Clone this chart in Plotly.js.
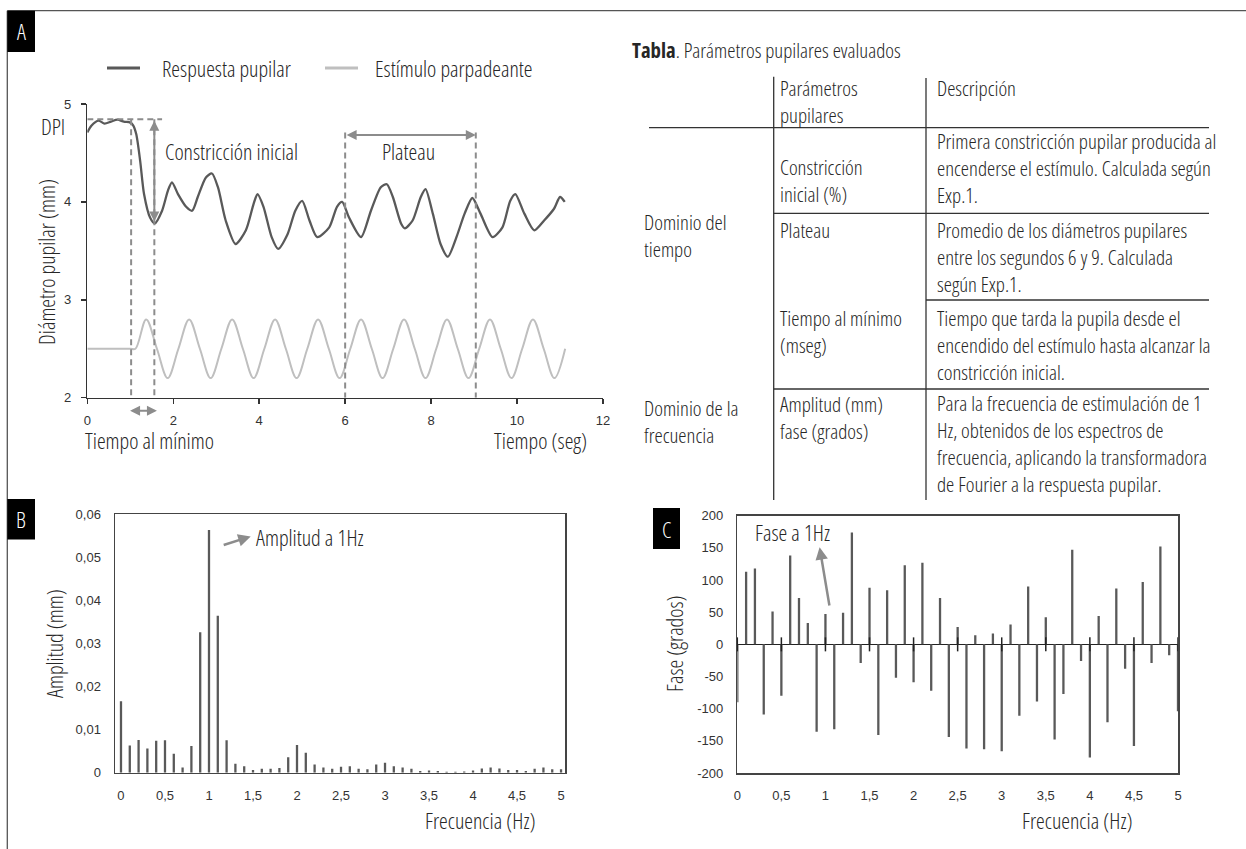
<!DOCTYPE html>
<html><head><meta charset="utf-8">
<script src="https://cdn.plot.ly/plotly-3.0.1.min.js"></script>
<style>html,body{margin:0;padding:0;background:#fff}#chart{width:1246px;height:849px}
text.annotation-text{font-stretch:75%;}</style>
</head><body><div id="chart"></div>
<script>
// ---------- Panel A data: pupil response (mm) vs time (s) ----------
const pupilTime = [0,0.1,0.26,0.4,0.55,0.7,0.85,1.0,1.07,1.14,1.23,1.32,1.46,1.57,1.74,1.88,1.97,2.11,2.30,2.44,2.57,2.76,2.90,3.04,3.22,3.45,3.69,3.87,3.96,4.10,4.29,4.44,4.66,4.84,5.00,5.17,5.35,5.63,5.81,5.93,6.09,6.37,6.60,6.83,6.97,7.11,7.30,7.39,7.57,7.76,7.87,8.04,8.22,8.39,8.59,8.78,8.96,9.15,9.43,9.66,9.84,9.96,10.17,10.40,10.63,10.86,11.00,11.11];
const pupilDiam = [4.71,4.78,4.83,4.80,4.82,4.84,4.82,4.81,4.78,4.69,4.42,4.08,3.84,3.78,3.91,4.12,4.20,4.08,3.95,3.91,4.05,4.25,4.29,4.15,3.81,3.57,3.71,3.98,4.08,3.95,3.64,3.52,3.67,3.91,4.01,3.81,3.64,3.74,3.95,4.00,3.84,3.64,3.91,4.15,4.18,4.05,3.78,3.73,3.81,4.05,4.13,3.88,3.57,3.44,3.64,3.88,4.04,3.88,3.64,3.74,4.01,4.08,3.88,3.71,3.81,3.93,4.05,4.00];
// flickering stimulus trace (drawn on the mm axis)
const stimTime = [0,1.0,1.12,1.37,1.62,1.87,2.12,2.37,2.62,2.87,3.12,3.37,3.62,3.87,4.12,4.37,4.62,4.87,5.12,5.37,5.62,5.87,6.12,6.37,6.62,6.87,7.12,7.37,7.62,7.87,8.12,8.37,8.62,8.87,9.12,9.37,9.62,9.87,10.12,10.37,10.62,10.87,11.12];
const stimLevel = [2.5,2.5,2.5,2.8,2.5,2.2,2.5,2.8,2.5,2.2,2.5,2.8,2.5,2.2,2.5,2.8,2.5,2.2,2.5,2.8,2.5,2.2,2.5,2.8,2.5,2.2,2.5,2.8,2.5,2.2,2.5,2.8,2.5,2.2,2.5,2.8,2.5,2.2,2.5,2.8,2.5,2.2,2.5];
// reference markers
const dpiLevel = 4.845, dpiLineEnd = 1.74;
const stimOnset = 1.02, timeOfMin = 1.56, minDiameter = 3.80;
const plateauStart = 6.0, plateauEnd = 9.04, plateauArrowY = 4.683, plateauTop = 4.71;

// ---------- Panels B and C: frequency spectra ----------
const freqHz = [0,0.1,0.2,0.3,0.4,0.5,0.6,0.7,0.8,0.9,1.0,1.1,1.2,1.3,1.4,1.5,1.6,1.7,1.8,1.9,2.0,2.1,2.2,2.3,2.4,2.5,2.6,2.7,2.8,2.9,3.0,3.1,3.2,3.3,3.4,3.5,3.6,3.7,3.8,3.9,4.0,4.1,4.2,4.3,4.4,4.5,4.6,4.7,4.8,4.9,5.0];
const amplitudeMm = [0.0166,0.0063,0.0076,0.0056,0.0074,0.0075,0.0044,0.0012,0.0062,0.0326,0.0563,0.0364,0.0075,0.0021,0.0015,0.0006,0.0009,0.0009,0.0011,0.0036,0.0064,0.0046,0.0019,0.0012,0.0009,0.0014,0.0015,0.0009,0.0008,0.0019,0.0023,0.0015,0.0012,0.0009,0.0004,0.0005,0.0004,0.0002,0.0002,0.0003,0.0005,0.0010,0.0012,0.0010,0.0006,0.0006,0.0004,0.0009,0.0012,0.0008,0.0008];
const phaseDeg = [-90,113,118,-109,51,-80,138,72,33,-136,47,-132,49,174,-29,88,-141,84,-52,123,-59,127,-72,72,-144,27,-162,14,-163,17,-166,31,-111,90,-89,42,-148,-77,147,-26,-176,44,-121,87,-38,-158,97,-29,152,-17,-104];
const phaseTickVals = [-200,-150,-100,-50,0,50,100,150,200];
const phaseTickText = ['-200','-150','-100','-50','0','50','100','150','200'];
const zeroAxisTicks = [0,0.5,1,1.5,2,2.5,3,3.5,4,4.5,5];

// ---------- Table ----------
const tableTitle = '<b>Tabla</b>. Parámetros pupilares evaluados';
const tableHeader = ['Parámetros<br>pupilares', 'Descripción'];
const tableDomains = ['Dominio del<br>tiempo', 'Dominio de la<br>frecuencia'];
const tableParams = ['Constricción<br>inicial (%)', 'Plateau', 'Tiempo al mínimo<br>(mseg)', 'Amplitud (mm)<br>fase (grados)'];
const tableDescr = [
  'Primera constricción pupilar producida al<br>encenderse el estímulo. Calculada según<br>Exp.1.',
  'Promedio de los diámetros pupilares<br>entre los segundos 6 y 9. Calculada<br>según Exp.1.',
  'Tiempo que tarda la pupila desde el<br>encendido del estímulo hasta alcanzar la<br>constricción inicial.',
  'Para la frecuencia de estimulación de 1<br>Hz, obtenidos de los espectros de<br>frecuencia, aplicando la transformadora<br>de Fourier a la respuesta pupilar.'
];

// ---------- helpers ----------
const W = 1246, H = 849;
const px = x => x / W, py = y => 1 - y / H;
const COND = '"Open Sans", "Roboto Condensed", sans-serif';
const TF = {family: '"Liberation Sans", Arial, sans-serif', size: 13, color: '#333'};
const TXT = {family: COND, size: 22, color: '#262626', weight: 350};
const TTAB = {family: COND, size: 20.8, color: '#262626', weight: 350};
const DASH = {color: '#8c8c8c', width: 2, dash: '6px,4px'};
const ARROW = '#8c8c8c';

const traces = [
  {type: 'scatter', mode: 'lines', x: pupilTime, y: pupilDiam, xaxis: 'x', yaxis: 'y', name: 'Respuesta pupilar',
   line: {color: '#595959', width: 2.3, shape: 'spline', smoothing: 0.7}, hoverinfo: 'skip'},
  {type: 'scatter', mode: 'lines', x: stimTime, y: stimLevel, xaxis: 'x', yaxis: 'y', name: 'Estímulo parpadeante',
   line: {color: '#bfbfbf', width: 2, shape: 'spline', smoothing: 1}, hoverinfo: 'skip'},
  {type: 'bar', x: freqHz, y: amplitudeMm, xaxis: 'x2', yaxis: 'y2', width: 0.026,
   marker: {color: '#595959'}, hoverinfo: 'skip'},
  {type: 'bar', x: freqHz, y: phaseDeg, xaxis: 'x3', yaxis: 'y3', width: 0.026,
   marker: {color: '#595959'}, hoverinfo: 'skip'},
  {type: 'scatter', mode: 'markers', x: zeroAxisTicks, y: zeroAxisTicks.map(() => 0), xaxis: 'x3', yaxis: 'y3',
   marker: {symbol: 'line-ns', size: 10, color: '#222', line: {width: 1.5, color: '#222'}}, cliponaxis: false, hoverinfo: 'skip'}
];

const baseAx = {showgrid: false, zeroline: false, tickfont: TF, fixedrange: true};

const layout = {
  width: W, height: H, margin: {l: 0, r: 0, t: 0, b: 0},
  paper_bgcolor: '#fff', plot_bgcolor: 'rgba(0,0,0,0)',
  separators: ',.', showlegend: false, font: TXT,
  xaxis: Object.assign({}, baseAx, {domain: [px(87.3), px(603)], range: [0, 12], anchor: 'y', dtick: 2, tick0: 0,
    showline: true, linecolor: '#333', linewidth: 1.5, ticks: 'outside', ticklen: 5, tickwidth: 1.5, tickcolor: '#333', ticklabelstandoff: 5}),
  yaxis: Object.assign({}, baseAx, {domain: [py(397.7), py(104)], range: [2, 5], anchor: 'x', dtick: 1, tick0: 2,
    showline: true, linecolor: '#333', linewidth: 1.5, ticks: 'outside', ticklen: 5, tickwidth: 1.5, tickcolor: '#333', ticklabelstandoff: 7}),
  xaxis2: Object.assign({}, baseAx, {domain: [px(115), px(565)], range: [-0.068, 5.045], anchor: 'y2', dtick: 0.5, tick0: 0,
    showline: true, mirror: true, linecolor: '#444', linewidth: 1.5, ticks: '', ticklabelstandoff: 10}),
  yaxis2: Object.assign({}, baseAx, {domain: [py(772.7), py(514)], range: [0, 0.06], anchor: 'x2', dtick: 0.01, tick0: 0,
    showline: true, mirror: true, linecolor: '#444', linewidth: 1.5, ticks: '', ticklabelstandoff: 10}),
  xaxis3: Object.assign({}, baseAx, {domain: [px(737.3), px(1178)], range: [0, 5], anchor: 'y3', dtick: 0.5, tick0: 0,
    showline: true, mirror: true, linecolor: '#444', linewidth: 1.5, ticks: '', ticklabelstandoff: 10}),
  yaxis3: Object.assign({}, baseAx, {domain: [py(773), py(515.7)], range: [-200, 200], anchor: 'x3',
    tickmode: 'array', tickvals: phaseTickVals, ticktext: phaseTickText,
    showline: true, mirror: true, linecolor: '#444', linewidth: 1.5, ticks: '', ticklabelstandoff: 10,
    zeroline: true, zerolinecolor: '#222', zerolinewidth: 1.5}),
  shapes: [], annotations: []
};

const S = layout.shapes, N = layout.annotations;
const pline = (x0, y0, x1, y1, color, width) => S.push({type: 'line', xref: 'paper', yref: 'paper',
  x0: px(x0), y0: py(y0), x1: px(x1), y1: py(y1), line: {color: color, width: width}});
const ptext = (text, x, y, o) => N.push(Object.assign({text: text, xref: 'paper', yref: 'paper', x: px(x), y: py(y),
  showarrow: false, font: TXT, xanchor: 'left', yanchor: 'middle', align: 'left'}, o || {}));

// outer frame
pline(7.3, 10.7, 1246, 10.7, '#555', 1.3);
pline(7.3, 10.7, 7.3, 849, '#555', 1.3);
// panel letters
[['A', 7.3, 10.7, 35, 52], ['B', 7.3, 499, 35, 539.5], ['C', 653, 508, 680, 549]].forEach(b => {
  S.push({type: 'rect', xref: 'paper', yref: 'paper', x0: px(b[1]), x1: px(b[3]), y0: py(b[4]), y1: py(b[2]),
    fillcolor: '#000', line: {width: 0}});
  ptext(b[0], (b[1] + b[3]) / 2, (b[2] + b[4]) / 2, {xanchor: 'center', font: {family: COND, size: 22, color: '#fff'}});
});

// ---- Panel A legend ----
pline(107, 68, 140, 68, '#595959', 3);
ptext('Respuesta pupilar', 160, 68);
pline(325, 68, 358, 68, '#bfbfbf', 3);
ptext('Estímulo parpadeante', 373, 68);

// ---- Panel A guide lines ----
const dl = (x0, y0, x1, y1) => S.push({type: 'line', xref: 'x', yref: 'y', x0: x0, y0: y0, x1: x1, y1: y1, line: DASH});
dl(0, dpiLevel, dpiLineEnd, dpiLevel);
dl(stimOnset, dpiLevel, stimOnset, 2);
dl(timeOfMin, dpiLevel, timeOfMin, 2);
dl(plateauStart, plateauTop, plateauStart, 2);
dl(plateauEnd, plateauTop, plateauEnd, 2);
const arrowA = {showarrow: true, text: '', arrowhead: 2, startarrowhead: 2, arrowside: 'end+start',
  arrowsize: 1, startarrowsize: 1, arrowwidth: 2, arrowcolor: ARROW};
N.push(Object.assign({xref: 'x', yref: 'y', axref: 'x', ayref: 'y', x: timeOfMin, y: minDiameter, ax: timeOfMin, ay: dpiLevel}, arrowA));
N.push(Object.assign({xref: 'x', yref: 'y', axref: 'x', ayref: 'y', x: plateauEnd, y: plateauArrowY, ax: plateauStart, ay: plateauArrowY}, arrowA));
N.push(Object.assign({xref: 'x', yref: 'paper', axref: 'x', ayref: 'pixel', x: timeOfMin + 0.06, y: py(410.7), ax: stimOnset - 0.06, ay: 0}, arrowA));

ptext('DPI', 53, 126, {xanchor: 'center'});
ptext('Constricción inicial', 163, 151);
ptext('Plateau', 408, 151, {xanchor: 'center'});
ptext('Tiempo al mínimo', 83, 440);
ptext('Tiempo (seg)', 589, 440, {xanchor: 'right'});
ptext('Diámetro pupilar (mm)', 46, 262, {xanchor: 'center', textangle: -90});

// ---- Panel B ----
N.push({xref: 'x2', yref: 'y2', x: 1.51, y: 0.0547, text: 'Amplitud a 1Hz', showarrow: false, xanchor: 'left', yanchor: 'middle', font: TXT});
N.push({xref: 'x2', yref: 'y2', axref: 'x2', ayref: 'y2', x: 1.474, y: 0.0548, ax: 1.15, ay: 0.0527,
  showarrow: true, text: '', arrowhead: 2, arrowsize: 1, arrowwidth: 2.5, arrowcolor: ARROW});
ptext('Amplitud (mm)', 54, 643, {xanchor: 'center', textangle: -90});
ptext('Frecuencia (Hz)', 480, 820, {xanchor: 'center'});

// ---- Panel C ----
N.push({xref: 'x3', yref: 'y3', x: 0.175, y: 174, text: 'Fase a 1Hz', showarrow: false, xanchor: 'left', yanchor: 'middle', font: TXT});
N.push({xref: 'x3', yref: 'y3', axref: 'x3', ayref: 'y3', x: 0.934, y: 151, ax: 1.048, ay: 58,
  showarrow: true, text: '', arrowhead: 2, arrowsize: 1, arrowwidth: 2.5, arrowcolor: ARROW});
ptext('Fase (grados)', 674, 644, {xanchor: 'center', textangle: -90});
ptext('Frecuencia (Hz)', 1077, 820, {xanchor: 'center'});

// ---- Table ----
ptext(tableTitle, 630, 50, {font: TTAB});
pline(649, 127.7, 1209, 127.7, '#333', 1.3);
pline(773.7, 213.3, 1209, 213.3, '#333', 1.3);
pline(926, 300, 1209, 300, '#333', 1.3);
pline(773.7, 389, 1209, 389, '#333', 1.3);
pline(773.7, 76.7, 773.7, 500, '#333', 1.3);
pline(926, 78, 926, 500, '#333', 1.3);
const tt = (text, x, y) => ptext(text, x, y, {font: TTAB});
tt(tableHeader[0], 778, 101.5);
tt(tableHeader[1], 935, 88);
tt(tableDomains[0], 642, 236);
tt(tableDomains[1], 642, 421.5);
tt(tableParams[0], 778, 181);
tt(tableParams[1], 778, 230);
tt(tableParams[2], 778, 331);
tt(tableParams[3], 778, 417.5);
tt(tableDescr[0], 935, 168.5);
tt(tableDescr[1], 935, 257.5);
tt(tableDescr[2], 935, 345);
tt(tableDescr[3], 935, 443.5);

Plotly.newPlot('chart', traces, layout, {displayModeBar: false, staticPlot: true});
</script></body></html>
